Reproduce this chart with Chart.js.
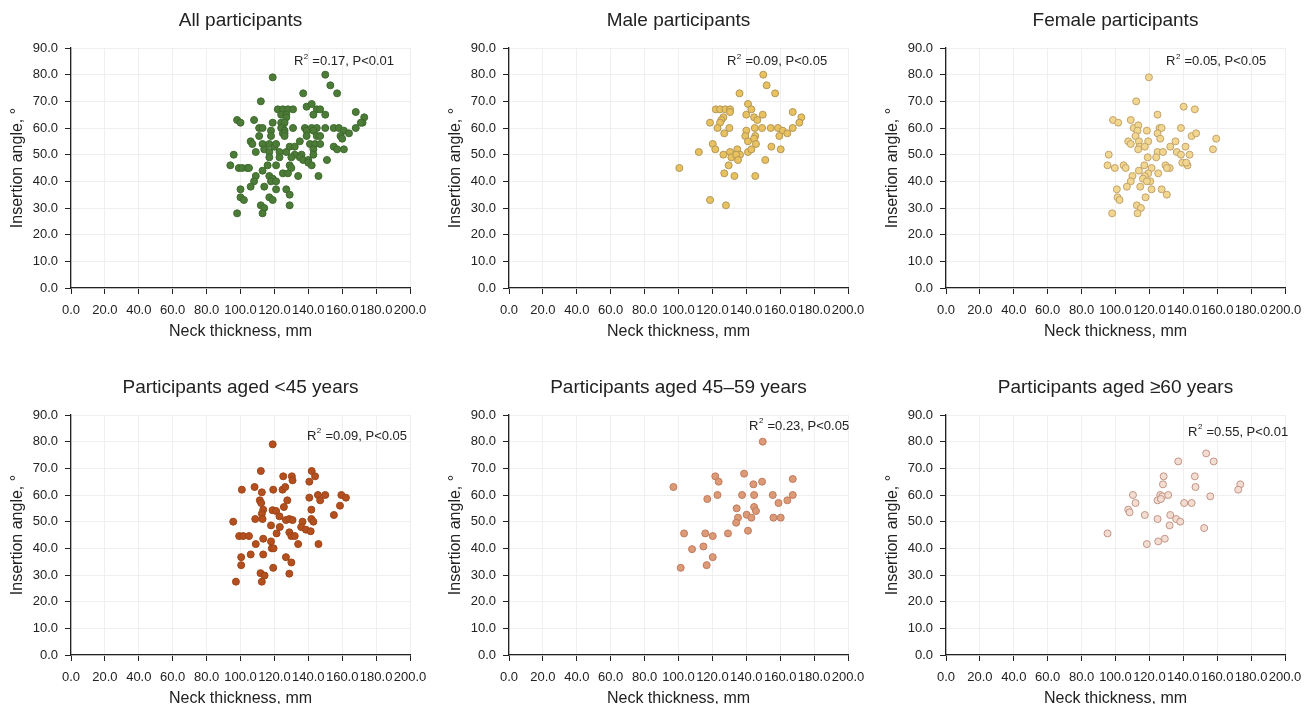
<!DOCTYPE html>
<html>
<head>
<meta charset="utf-8">
<script src="https://cdn.jsdelivr.net/npm/chart.js@4.4.1/dist/chart.umd.min.js"></script>
<style>
    html, body { margin: 0; padding: 0; background: #fff; overflow: hidden; }
    canvas { position: absolute; }
</style>
</head>
<body>
<canvas id="c0" width="430" height="343" style="left:0px;top:0px"></canvas>
<canvas id="c1" width="430" height="343" style="left:438px;top:0px"></canvas>
<canvas id="c2" width="430" height="343" style="left:875px;top:0px"></canvas>
<canvas id="c3" width="430" height="343" style="left:0px;top:367px"></canvas>
<canvas id="c4" width="430" height="343" style="left:438px;top:367px"></canvas>
<canvas id="c5" width="430" height="343" style="left:875px;top:367px"></canvas>
<script>
// Datos: [grosor del cuello (mm), ángulo de inserción (°)]
const allParticipants = [
    [119,79],[150,80],[153,76],[157,73],[137,73],[112,70],[139,68],[142,69],
    [98,63],[100,62],[108,63],[122,67],[125,67],[128,67],[131,67],[124,65],[127,65],[145,67],[147,67],[143,65],[150,65],
    [168,66],[173,64],[172,62],[127,64],[124,62],[126,62],[125,60],[119,62],
    [111,60],[113,60],[124,60],[126,59],[131,60],[138,60],[142,60],[145,60],[150,60],[155,60],[158,60],[161,59],[164,58],[168,60],[171,62],
    [118,59],[125,58],[139,59],[143,59],[145,57],[126,58],[111,57],[118,57],[126,57],[139,57],[147,57],[159,57],[160,56],
    [106,55],[107,54],[113,54],[117,54],[114,52],[120,53],[121,54],[129,53],[132,53],[135,55],[141,54],[144,54],[147,54],[143,52],[155,53],[157,52],[161,52],
    [109,51],[117,51],[123,51],[127,51],[132,50],[136,50],[143,50],
    [96,50],[123,49],[130,49],[135,49],[137,48],[140,48],[151,48],[117,49],
    [94,46],[99,45],[101,45],[104,45],[105,45],[116,46],[121,46],[129,46],[130,45],[140,47],[142,46],
    [113,44],[125,43],[128,43],[134,42],[146,42],[109,42],[117,42],
    [108,40],[119,41],[118,40],[121,40],[106,38],[114,38],[121,37],[127,37],[100,37],[129,35],
    [100,34],[102,33],[117,34],[119,33],[112,31],[114,30],[129,31],[98,28],[113,28]
];
const maleParticipants = [
    [150,80],[152,76],[157,73],[136,73],[141,69],[143,67],
    [122,67],[124.5,67],[127.6,67],[130.4,67],[130.4,66],[140,65],[144.6,64],[146.5,63],[149.7,65],
    [167.4,66],[172.5,64],[171.3,62],[126.5,64],[125.3,63],[124.5,62],[118.6,62],
    [123,60],[130,60],[127,58],[140,59],[139.4,57],[145,60],[149.3,60],
    [154.4,60],[158.7,60],[161.5,59],[164.2,58],[167.4,60],[159.5,57],[145.3,57],
    [141,55],[144.6,56],[145.7,54],[120.2,54],[121.7,52],[112,51],
    [130.4,51],[134.7,52],[136.3,50],[131.2,49],[134,50],[135.1,48],[126.5,50],
    [141,51],[143,52],[154.8,53],[160.3,52],[151.2,48],[129.6,46],[100.5,45],
    [127,43],[133,42],[145.3,42],[118.6,33],[128,31]
];
const femaleParticipants = [
    [119.7,79],[112.2,70],[140.2,68],[146.8,67],[124.8,65],[98.5,63],[101.6,62],[109,63],
    [110.7,60],[113.4,61],[113,59],[118.5,59],[126,60],[127.2,60],[124.8,58],[126.4,56],[138.6,60],
    [111.8,57],[144.9,57],[147.6,58],[159.4,56],[157.5,52],
    [107.5,55],[113.8,55],[119.3,55],[109,54],[114.2,53],[113.4,52],[117.3,53],
    [135.4,55],[132.3,53],[141.3,53],[124.8,51],[128,51],[136.2,51],[138.6,50],[143.7,50],
    [96,50],[119,49],[124,49],
    [95.3,46],[99.6,45],[104.8,46],[106,45],[113.8,44],[117,46],[121.3,45],
    [129.5,46],[132,45],[130.3,45],[125.2,43],[139.4,47],[142.5,46],[141.7,47],
    [119.3,43],[117.3,42],[116.2,41],[120.5,40],[118.5,40],
    [110,42],[109,40],[106.7,38],[114.6,38],[121.3,37],[127.2,37],[130.3,35],
    [100.8,37],[101.2,34],[102.4,33],[117.7,34],[112.6,31],[115,30],[113,28],[98,28]
];
const agedUnder45 = [
    [119,79],[112,69],[142,69],[144,67],[140.6,65],[125.2,67],[130.3,67],[130.7,65.5],
    [100.8,62],[108.3,63],[112.6,61],[119.3,62],[124.8,62],[126.4,63],
    [111.4,58],[112.2,57],[127.6,58],[125.6,55.5],
    [140.6,59],[145.7,60],[147,58],[150,60],[159.5,60],[162.2,59],[158.7,56],[155.1,52.5],
    [141.8,54.5],[113.4,54.5],[112.6,53],[113,51],[118.9,54.3],[121,54],[123,52],
    [108.7,51],[95.7,50],[126.8,50.6],[128.8,51],[130.7,50.6],[123.2,48],[118,48.6],
    [136.6,50],[135.8,48],[138.6,47],[141.8,51],[143,50],[141.4,46.4],
    [128.8,46],[130,44.6],[132,44.6],[121.3,45.6],[134,41.6],
    [99.2,44.6],[101.6,44.6],[105,44.6],[113.4,43.6],[109,41.6],[118,42.6],[146,41.6],
    [118.5,40],[119.5,40],[100.4,36.7],[106,37.7],[113.4,37.7],[100.4,33.7],
    [126.8,36.7],[130,34.7],[119.3,32.7],[128.8,30.5],[111.8,30.7],[114.2,29.8],[112.6,27.5],[97.3,27.5]
];
const aged45to59 = [
    [149.7,80],[97,63],[121.7,67],[123.7,65],[138.7,68],[144.2,64],[149.3,65],[167.4,66],
    [117,58.5],[123,60],[137.5,60],[144.6,60],[155.6,60],[167.4,60],[159,57],[164.2,58],
    [144.6,55.5],[145.7,54],[134.3,55],[140.2,52.6],[143,51.5],[135.1,51.5],[134,49.6],
    [156,51.5],[160.3,51.5],[141,46.6],
    [103.3,45.6],[115.8,45.6],[120.2,44.6],[129.2,45.6],[108,39.7],[114.7,40.7],
    [120.2,36.7],[116.6,33.7],[101.3,32.7]
];
const aged60plus = [
    [153.5,75.6],[157.9,72.6],[137,72.6],[128.4,67],[128,64],[146.8,67],[147.2,63],
    [173.6,64],[172.4,62],[110.3,60],[111.8,57],
    [124.8,58],[126.4,60],[127.6,59.5],[126.8,58.5],[131.1,60],[140.5,57],[144.9,57],[155.9,59.5],
    [107.5,54.5],[108.3,53.5],[117.3,52.5],[124.8,51],[132.3,52.5],[135.8,51],[138.2,50],[131.9,48.6],
    [152.3,47.6],[95.3,45.6],[118.5,41.6],[125.2,42.6],[129.1,43.6]
];

const panelTitles = [
    'All participants', 'Male participants', 'Female participants',
    'Participants aged <45 years', 'Participants aged 45\u201359 years', 'Participants aged \u226560 years'
];
const r2Values = ['0.17', '0.09', '0.05', '0.09', '0.23', '0.55'];
const pValues = ['P<0.01', 'P<0.05', 'P<0.05', 'P<0.05', 'P<0.05', 'P<0.01'];
const xRange = [0, 200];
const yRange = [0, 90];

const FONT = "'Liberation Sans', Arial, Helvetica, sans-serif";
const TEXT = '#222';
Chart.defaults.font.family = FONT;
Chart.defaults.color = TEXT;

// Estilo de cada panel (colores de los puntos y posición del texto R²)
const panels = [
    { data: allParticipants,    fill: '#4d7c39', border: '#3c6a2c', note: [131.5, 84.8] },
    { data: maleParticipants,   fill: '#e8c25e', border: '#b3965a', note: [128.6, 84.8] },
    { data: femaleParticipants, fill: '#f1d68f', border: '#c2a26c', note: [129.8, 84.8] },
    { data: agedUnder45,        fill: '#b4501f', border: '#9f4417', note: [139.2, 82.1] },
    { data: aged45to59,         fill: '#dc9a77', border: '#bf7b5e', note: [141.6, 85.9] },
    { data: aged60plus,         fill: '#f3ddd3', border: '#c29585', note: [142.8, 83.6] }
];

// Título centrado sobre el área del gráfico y texto "R² =..., P<..."
const panelText = {
    id: 'panelText',
    afterDatasetsDraw(chart, args, opts) {
        const ctx = chart.ctx;
        const area = chart.chartArea;
        ctx.save();
        ctx.fillStyle = TEXT;
        ctx.textBaseline = 'middle';

        ctx.textAlign = 'center';
        ctx.font = '19px ' + FONT;
        ctx.fillText(opts.title, (area.left + area.right) / 2, area.top - 27);

        const x0 = chart.scales.x.getPixelForValue(opts.at[0]);
        const y0 = chart.scales.y.getPixelForValue(opts.at[1]);
        ctx.textAlign = 'left';
        ctx.font = '13px ' + FONT;
        ctx.fillText('R', x0, y0);
        let x = x0 + ctx.measureText('R').width;
        ctx.font = '8px ' + FONT;
        ctx.fillText('2', x + 0.5, y0 - 5);
        x += ctx.measureText('2').width + 1;
        ctx.font = '13px ' + FONT;
        ctx.fillText(' =' + opts.r2 + ', ' + opts.p, x, y0);
        ctx.restore();
    }
};

function createPanel(i) {
    const p = panels[i];
    const ctx = document.getElementById('c' + i).getContext('2d');
    return new Chart(ctx, {
        type: 'scatter',
        data: {
            datasets: [{
                data: p.data.map(d => ({ x: d[0], y: d[1] })),
                backgroundColor: p.fill,
                borderColor: p.border,
                borderWidth: 1,
                pointRadius: 3.5,
                pointHoverRadius: 3.5
            }]
        },
        options: {
            responsive: false,
            animation: false,
            devicePixelRatio: 1,
            layout: { padding: { left: 0, top: 48, right: 20, bottom: 0 } },
            plugins: {
                legend: { display: false },
                tooltip: { enabled: false },
                title: { display: false },
                panelText: { title: panelTitles[i], at: p.note, r2: r2Values[i], p: pValues[i] }
            },
            scales: {
                x: {
                    type: 'linear',
                    min: xRange[0],
                    max: xRange[1],
                    ticks: {
                        stepSize: 20,
                        autoSkip: false,
                        maxRotation: 0,
                        padding: 9,
                        color: TEXT,
                        font: { size: 13 },
                        callback: v => v.toFixed(1)
                    },
                    grid: { color: '#efefef', tickColor: '#222', tickLength: 6 },
                    border: { color: '#222', width: 1.3 },
                    title: {
                        display: true,
                        text: 'Neck thickness, mm',
                        color: TEXT,
                        font: { size: 16 },
                        padding: { top: 0, bottom: 1.4 }
                    },
                    afterFit(scale) {
                        scale.height = 55;
                        scale.paddingLeft = 0;
                        scale.paddingRight = 0;
                    }
                },
                y: {
                    type: 'linear',
                    min: yRange[0],
                    max: yRange[1],
                    ticks: {
                        stepSize: 10,
                        padding: 7,
                        color: TEXT,
                        font: { size: 13 },
                        callback: v => v.toFixed(1)
                    },
                    grid: { color: '#efefef', tickColor: '#222', tickLength: 6 },
                    border: { color: '#222', width: 1.3 },
                    title: {
                        display: true,
                        text: 'Insertion angle, \u00B0',
                        color: TEXT,
                        font: { size: 16 },
                        padding: { top: 8.4, bottom: 0 }
                    },
                    afterFit(scale) {
                        scale.width = 71;
                        scale.paddingTop = 0;
                        scale.paddingBottom = 0;
                    }
                }
            }
        },
        plugins: [panelText]
    });
}

for (let i = 0; i < panels.length; i++) {
    createPanel(i);
}
</script>
</body>
</html>
